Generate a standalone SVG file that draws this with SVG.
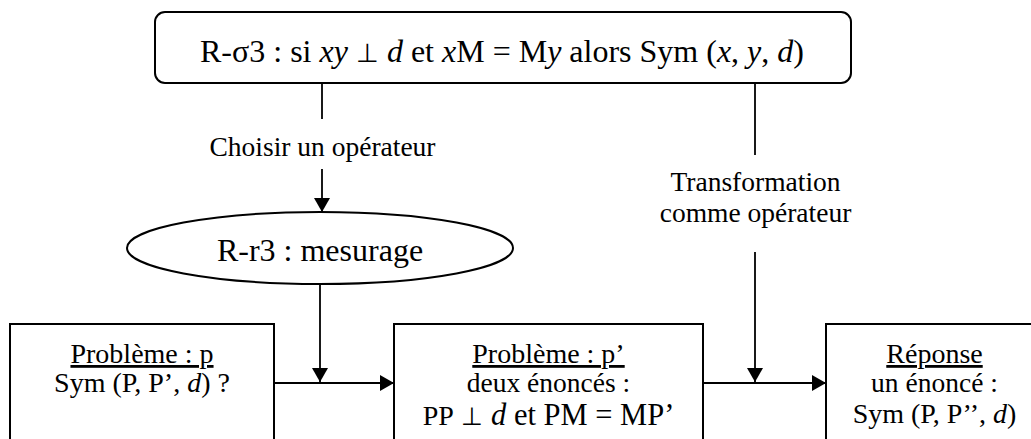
<svg xmlns="http://www.w3.org/2000/svg" width="1031" height="439" viewBox="0 0 1031 439">
<style>
text{font-family:"Liberation Serif","Times New Roman",serif;fill:#000;text-anchor:middle}
.s{stroke:#000;stroke-width:1.8;fill:none}
.b{stroke:#000;stroke-width:2;fill:#fff}
.i{font-style:italic}
.u{text-decoration:underline}
.p{font-size:0.82em}
</style>
<defs>
<marker id="ah" markerUnits="userSpaceOnUse" markerWidth="15" markerHeight="16" refX="14" refY="8" orient="auto">
<path d="M0,0 L14,8 L0,16 Z" fill="#000"/>
</marker>
</defs>
<g id="connectors">
<line class="s" x1="322" y1="83" x2="322" y2="119"/>
<line class="s" x1="322" y1="169" x2="322" y2="212" marker-end="url(#ah)"/>
<line class="s" x1="320" y1="284" x2="320" y2="382" marker-end="url(#ah)"/>
<line class="s" x1="274" y1="383" x2="394" y2="383" marker-end="url(#ah)"/>
<line class="s" x1="755" y1="83" x2="755" y2="155"/>
<line class="s" x1="755" y1="252" x2="755" y2="382" marker-end="url(#ah)"/>
<line class="s" x1="703" y1="383" x2="826" y2="383" marker-end="url(#ah)"/>
<text x="322.5" y="156" font-size="27.5">Choisir un opérateur</text>
<text x="755.5" y="191" font-size="27.5">Transformation</text>
<text x="755.5" y="222" font-size="27.5">comme opérateur</text>
</g>
<g id="rule">
<rect class="b" x="155" y="12" width="696" height="71" rx="10"/>
<text x="502" y="62" font-size="32">R-σ3 : si <tspan class="i">xy</tspan> <tspan class="p">⊥</tspan> <tspan class="i">d</tspan> et <tspan class="i">x</tspan>M = M<tspan class="i">y</tspan> alors Sym (<tspan class="i">x</tspan>, <tspan class="i">y</tspan>, <tspan class="i">d</tspan>)</text>
</g>
<g id="operator">
<ellipse class="b" cx="320" cy="248" rx="193" ry="36"/>
<text x="320" y="261" font-size="32">R-r3 : mesurage</text>
</g>
<g id="problem-p">
<rect class="b" x="10" y="324" width="264" height="130"/>
<text x="142" y="363" font-size="28" class="u">Problème : p</text>
<text x="142" y="392" font-size="28">Sym (P, P’, <tspan class="i">d</tspan>) ?</text>
</g>
<g id="problem-p2">
<rect class="b" x="394" y="324" width="309" height="130"/>
<text x="548.5" y="363" font-size="28" class="u">Problème : p’</text>
<text x="548.5" y="392" font-size="27.5">deux énoncés :</text>
<text x="548.5" y="425" font-size="30.5"><tspan font-size="28">PP</tspan> <tspan class="p">⊥</tspan> <tspan class="i">d</tspan> et PM = MP’</text>
</g>
<g id="answer">
<rect class="b" x="826" y="324" width="220" height="130"/>
<text x="934.5" y="363" font-size="28" class="u">Réponse</text>
<text x="934.5" y="392" font-size="27.5">un énoncé :</text>
<text x="934.5" y="423" font-size="28">Sym (P, P’’, <tspan class="i">d</tspan>)</text>
</g>
</svg>
